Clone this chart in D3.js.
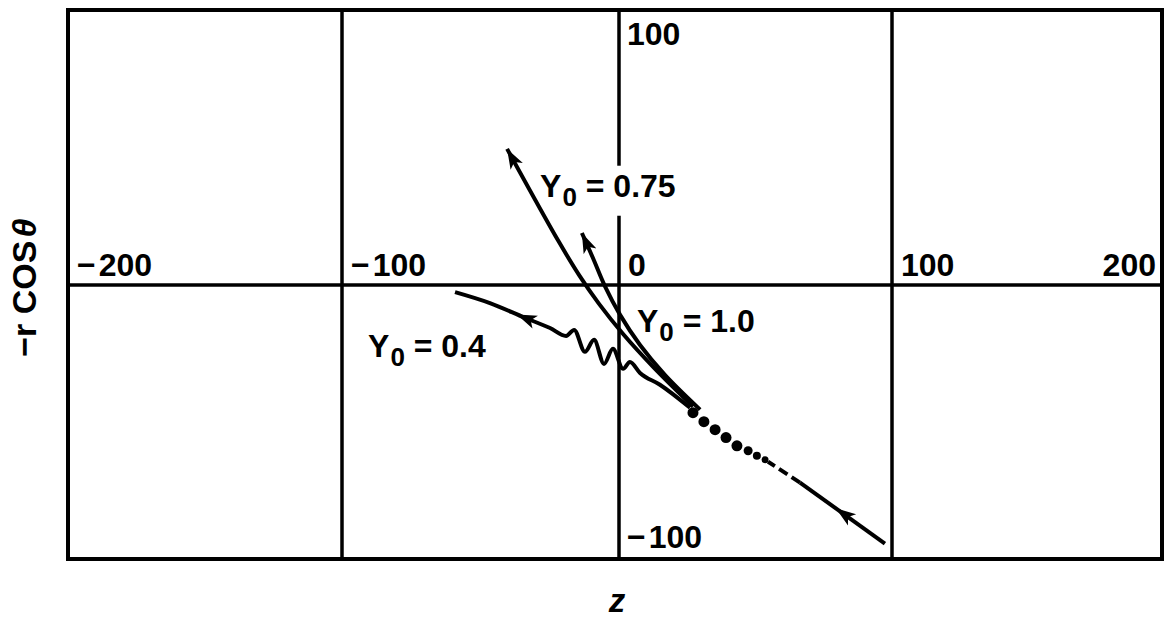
<!DOCTYPE html>
<html>
<head>
<meta charset="utf-8">
<script src="https://cdn.jsdelivr.net/npm/d3@7"></script>
<style>
  body { margin: 0; background: #fff; }
  svg { display: block; }
  text { font-family: "Liberation Sans", Arial, Helvetica, sans-serif; font-weight: bold; fill: #000; }
</style>
</head>
<body>
<svg id="chart" width="1164" height="619"></svg>
<script>
// axis ticks
const zTicks = [-200, -100, 0, 100, 200];
const rTicks = [100, -100];
const zGrid = [-100, 0, 100];
const rGrid = [0];

// trajectories, [z, -r cos(theta)]
const trajY075 = [[27.1, -44.4], [12.5, -29.9], [1.5, -17.9], [-7.2, -6.9], [-14.4, 3.6], [-21.7, 15.7], [-40.4, 49.5]];
const trajY10 = [[29.7, -45.5], [16.8, -32.8], [7.7, -21.9], [0.4, -10.9], [-5.1, -0.4], [-9.4, 9.8], [-13.4, 18.9]];
const trajY04 = [[-59.2, -2.6], [-46.6, -6.6], [-33.9, -12.0], [-24.9, -15.7], [-19.1, -18.6], [-16.2, -16.4],
                 [-12.3, -24.4], [-9.0, -20.0], [-5.4, -28.8], [-2.2, -23.3], [1.5, -30.6], [4.0, -28.1],
                 [7.7, -32.1], [15.0, -36.4], [26.0, -44.8]];
const incoming = [[97.4, -94.4], [66.3, -72.1]];
const incomingDashed = [[66.3, -72.1], [54.6, -64.5]];
const beads = [[27.1, -46.6], [31.1, -49.9], [35.2, -52.8], [39.2, -55.7], [43.2, -58.7], [47.3, -60.5], [50.5, -62.3], [53.5, -63.8]];
const beadSize = [5.5, 5.5, 5.5, 5.5, 5.5, 4.5, 4, 3.5];

const svg = d3.select("#chart");

const x = d3.scaleLinear().domain([-200, -100, 0, 100, 200]).range([68, 342, 619, 892, 1162]);
const y = d3.scaleLinear().domain([-100, 0, 100]).range([559, 285, 10]);

svg.append("defs").append("marker")
    .attr("id", "head")
    .attr("markerUnits", "userSpaceOnUse")
    .attr("markerWidth", 22).attr("markerHeight", 16)
    .attr("refX", 20).attr("refY", 8)
    .attr("orient", "auto")
    .append("path")
    .attr("d", "M0,1 L20,8 L0,15 L5,8 Z")
    .attr("fill", "#000");

const gridLayer = svg.append("g");
const bgLayer = svg.append("g");
const curveLayer = svg.append("g");
const textLayer = svg.append("g");

// grid
gridLayer.selectAll(".vgrid").data(zGrid).enter().append("line")
    .attr("x1", d => x(d)).attr("x2", d => x(d))
    .attr("y1", y(100)).attr("y2", y(-100))
    .attr("stroke", "#000").attr("stroke-width", 3.5);

gridLayer.selectAll(".hgrid").data(rGrid).enter().append("line")
    .attr("x1", x(-200)).attr("x2", x(200))
    .attr("y1", d => y(d)).attr("y2", d => y(d))
    .attr("stroke", "#000").attr("stroke-width", 3.5);

gridLayer.append("rect")
    .attr("x", x(-200)).attr("y", y(100))
    .attr("width", x(200) - x(-200)).attr("height", y(-100) - y(100))
    .attr("fill", "none").attr("stroke", "#000").attr("stroke-width", 4);

function numLabel(sel, d) {
    if (d < 0) {
        sel.append("tspan").text("\u2212");
        sel.append("tspan").attr("dx", 3).text(Math.abs(d));
    } else {
        sel.text(d);
    }
}

// z tick labels sit just above the r = 0 line
textLayer.selectAll(".zlab").data(zTicks).enter().append("text")
    .attr("x", d => d === 200 ? x(d) - 6 : x(d) + 9)
    .attr("y", y(0) - 9)
    .attr("text-anchor", d => d === 200 ? "end" : "start")
    .attr("font-size", 32)
    .each(function (d) { numLabel(d3.select(this), d); });

textLayer.selectAll(".rlab").data(rTicks).enter().append("text")
    .attr("x", x(0) + 8)
    .attr("y", d => d > 0 ? y(d) + 35 : y(d) - 11)
    .attr("font-size", 32)
    .each(function (d) { numLabel(d3.select(this), d); });

// axis titles
const yTitle = textLayer.append("text")
    .attr("transform", "translate(36," + y(-1) + ") rotate(-90)")
    .attr("text-anchor", "middle")
    .attr("font-size", 34);
yTitle.append("tspan").text("\u2212r COS");
yTitle.append("tspan").attr("dx", 3).attr("font-style", "italic").text("\u03b8");

textLayer.append("text")
    .attr("x", x(0) - 2).attr("y", 612)
    .attr("text-anchor", "middle")
    .attr("font-size", 33)
    .attr("font-style", "italic")
    .text("z");

const line = d3.line().x(d => x(d[0])).y(d => y(d[1]));
const smooth = d3.line().x(d => x(d[0])).y(d => y(d[1])).curve(d3.curveCatmullRom.alpha(0.5));
const wavy = d3.line().x(d => x(d[0])).y(d => y(d[1])).curve(d3.curveMonotoneX);

// incoming trajectory
curveLayer.append("path").datum(incoming).attr("d", line)
    .attr("fill", "none").attr("stroke", "#000").attr("stroke-width", 4);
curveLayer.append("path").datum(incomingDashed).attr("d", line)
    .attr("fill", "none").attr("stroke", "#000").attr("stroke-width", 4)
    .attr("stroke-dasharray", "10,5");

curveLayer.selectAll(".bead").data(beads).enter().append("circle")
    .attr("cx", d => x(d[0])).attr("cy", d => y(d[1]))
    .attr("r", (d, i) => beadSize[i])
    .attr("fill", "#000");

// outgoing trajectories
[trajY075, trajY10].forEach(t => {
    curveLayer.append("path").datum(t).attr("d", smooth)
        .attr("fill", "none").attr("stroke", "#000").attr("stroke-width", 4)
        .attr("marker-end", "url(#head)");
});
curveLayer.append("path").datum(trajY04).attr("d", wavy)
    .attr("fill", "none").attr("stroke", "#000").attr("stroke-width", 4)
    .attr("stroke-linejoin", "round");

// arrowhead placed on a path at point p, pointing toward q
function arrowAt(p, q) {
    const px = x(p[0]), py = y(p[1]);
    const a = Math.atan2(y(q[1]) - py, x(q[0]) - px) * 180 / Math.PI;
    curveLayer.append("path")
        .attr("d", "M-11,-7 L9,0 L-11,7 L-6,0 Z")
        .attr("transform", "translate(" + px + "," + py + ") rotate(" + a + ")")
        .attr("fill", "#000");
}
arrowAt(trajY04[2], trajY04[1]);
arrowAt([82.1, -83.4], incoming[1]);

// curve labels
const labels = [
    { text: "0.75", z: -28.5, r: 32.1, bg: true },
    { text: "1.0", z: 6.6, r: -17.1, bg: false },
    { text: "0.4", z: -90.6, r: -26.2, bg: false }
];
labels.forEach(l => {
    const t = textLayer.append("text")
        .attr("x", x(l.z)).attr("y", y(l.r))
        .attr("font-size", 32);
    t.append("tspan").text("Y");
    t.append("tspan").attr("font-size", 26).attr("dy", 9).attr("dx", 1).text("0");
    t.append("tspan").attr("dy", -9).text(" = " + l.text);
    if (l.bg) {
        const b = t.node().getBBox();
        bgLayer.append("rect")
            .attr("x", b.x - 3).attr("y", b.y - 2)
            .attr("width", b.width + 6).attr("height", b.height + 6)
            .attr("fill", "#fff");
    }
});
</script>
</body>
</html>
